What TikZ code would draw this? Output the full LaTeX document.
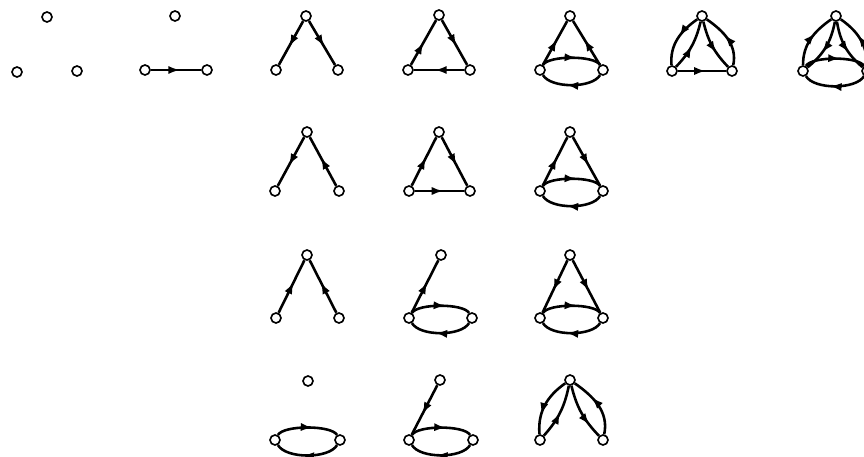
\documentclass[tikz,border=0pt]{standalone}
\usepackage{tikz}
\usetikzlibrary{arrows.meta,decorations.markings}

\begin{document}
\begin{tikzpicture}[x=0.03cm, y=0.03cm,
    vertex/.style={circle, draw, line width=1.4pt, minimum size=0.3cm, inner sep=0pt},
    arr/.style={line width=2.2pt, postaction={decorate},
      decoration={markings, mark=at position #1 with {\arrow{Latex[length=10pt,width=7pt]}}}},
    arr/.default=0.58,
    arcup/.style={bend left=60, looseness=0.5},
    arcdown/.style={bend left=60, looseness=0.7}]
                    \useasboundingbox (0,0) rectangle (864,-457);
                    % Nodes, first row
                    \node[vertex] (a1t) at (47,-17) {};
                    \node[vertex] (a1l) at (17,-72) {};
                    \node[vertex] (a1r) at (77,-71) {};
                    \node[vertex] (a2t) at (175,-16) {};
                    \node[vertex] (a2l) at (145,-70) {};
                    \node[vertex] (a2r) at (207,-70) {};
                    \node[vertex] (a3t) at (306,-16) {};
                    \node[vertex] (a3l) at (276,-70) {};
                    \node[vertex] (a3r) at (338,-70) {};
                    \node[vertex] (a4t) at (439,-15) {};
                    \node[vertex] (a4l) at (408,-70) {};
                    \node[vertex] (a4r) at (470,-70) {};
                    \node[vertex] (a5t) at (570,-16) {};
                    \node[vertex] (a5l) at (540,-70) {};
                    \node[vertex] (a5r) at (603,-70) {};
                    \node[vertex] (a6t) at (702,-16) {};
                    \node[vertex] (a6l) at (672,-71) {};
                    \node[vertex] (a6r) at (732,-71) {};
                    \node[vertex] (a7t) at (836,-16) {};
                    \node[vertex] (a7l) at (803,-71) {};
                    \node[vertex] (a7r) at (867,-71) {};
                    % Nodes, second row
                    \node[vertex] (b3t) at (307,-132) {};
                    \node[vertex] (b3l) at (275,-191) {};
                    \node[vertex] (b3r) at (339,-191) {};
                    \node[vertex] (b4t) at (439,-132) {};
                    \node[vertex] (b4l) at (409,-191) {};
                    \node[vertex] (b4r) at (470,-191) {};
                    \node[vertex] (b5t) at (570,-132) {};
                    \node[vertex] (b5l) at (540,-191) {};
                    \node[vertex] (b5r) at (603,-191) {};
                    % Nodes, third row
                    \node[vertex] (c3t) at (307,-255) {};
                    \node[vertex] (c3l) at (276,-318) {};
                    \node[vertex] (c3r) at (339,-318) {};
                    \node[vertex] (c4t) at (441,-255) {};
                    \node[vertex] (c4l) at (409,-318) {};
                    \node[vertex] (c4r) at (472,-318) {};
                    \node[vertex] (c5t) at (570,-255) {};
                    \node[vertex] (c5l) at (540,-318) {};
                    \node[vertex] (c5r) at (603,-318) {};
                    % Nodes, fourth row
                    \node[vertex] (d3t) at (308,-381) {};
                    \node[vertex] (d3l) at (275,-440) {};
                    \node[vertex] (d3r) at (340,-440) {};
                    \node[vertex] (d4t) at (440,-380) {};
                    \node[vertex] (d4l) at (409,-440) {};
                    \node[vertex] (d4r) at (473,-440) {};
                    \node[vertex] (d5t) at (570,-380) {};
                    \node[vertex] (d5l) at (540,-440) {};
                    \node[vertex] (d5r) at (603,-440) {};
                    % Edges, first row
                    \draw[arr] (a2l) -- (a2r);
                    \draw[arr] (a3t) -- (a3l);
                    \draw[arr] (a3t) -- (a3r);
                    \draw[arr=0.5] (a4l) -- (a4t);
                    \draw[arr] (a4t) -- (a4r);
                    \draw[arr] (a4r) -- (a4l);
                    \draw[arr] (a5l) -- (a5t);
                    \draw[arr] (a5r) -- (a5t);
                    \draw[arr] (a5l) to[arcup] (a5r);
                    \draw[arr] (a5r) to[arcdown] (a5l);
                    \draw[arr=0.45] (a6t) to[out=215, in=95] (a6l);
                    \draw[arr=0.5] (a6l) to[bend right=15] (a6t);
                    \draw[arr=0.65] (a6t) to[bend right=15] (a6r);
                    \draw[arr] (a6r) to[out=78, in=-35] (a6t);
                    \draw[arr] (a6l) -- (a6r);
                    \draw[arr=0.62] (a7l) to[out=90, in=215] (a7t);
                    \draw[arr=0.62] (a7t) to[bend left=20] (a7l);
                    \draw[arr=0.62] (a7t) to[bend right=20] (a7r);
                    \draw[arr] (a7r) to[out=90, in=-35] (a7t);
                    \draw[arr] (a7l) to[arcup] (a7r);
                    \draw[arr] (a7r) to[arcdown] (a7l);
                    % Edges, second row
                    \draw[arr] (b3t) -- (b3l);
                    \draw[arr] (b3r) -- (b3t);
                    \draw[arr] (b4l) -- (b4t);
                    \draw[arr] (b4t) -- (b4r);
                    \draw[arr] (b4l) -- (b4r);
                    \draw[arr] (b5l) -- (b5t);
                    \draw[arr] (b5t) -- (b5r);
                    \draw[arr] (b5l) to[arcup] (b5r);
                    \draw[arr] (b5r) to[arcdown] (b5l);
                    % Edges, third row
                    \draw[arr] (c3l) -- (c3t);
                    \draw[arr] (c3r) -- (c3t);
                    \draw[arr] (c4l) -- (c4t);
                    \draw[arr] (c4l) to[arcup] (c4r);
                    \draw[arr] (c4r) to[arcdown] (c4l);
                    \draw[arr] (c5t) -- (c5l);
                    \draw[arr] (c5t) -- (c5r);
                    \draw[arr] (c5l) to[arcup] (c5r);
                    \draw[arr] (c5r) to[arcdown] (c5l);
                    % Edges, fourth row
                    \draw[arr] (d3l) to[arcup] (d3r);
                    \draw[arr] (d3r) to[arcdown] (d3l);
                    \draw[arr] (d4t) -- (d4l);
                    \draw[arr] (d4l) to[arcup] (d4r);
                    \draw[arr] (d4r) to[arcdown] (d4l);
                    \draw[arr=0.67] (d5t) to[out=215, in=95] (d5l);
                    \draw[arr=0.5] (d5l) to[bend right=15] (d5t);
                    \draw[arr=0.75] (d5t) to[bend right=15] (d5r);
                    \draw[arr=0.65] (d5r) to[out=78, in=-35] (d5t);
                \end{tikzpicture}
\end{document}
